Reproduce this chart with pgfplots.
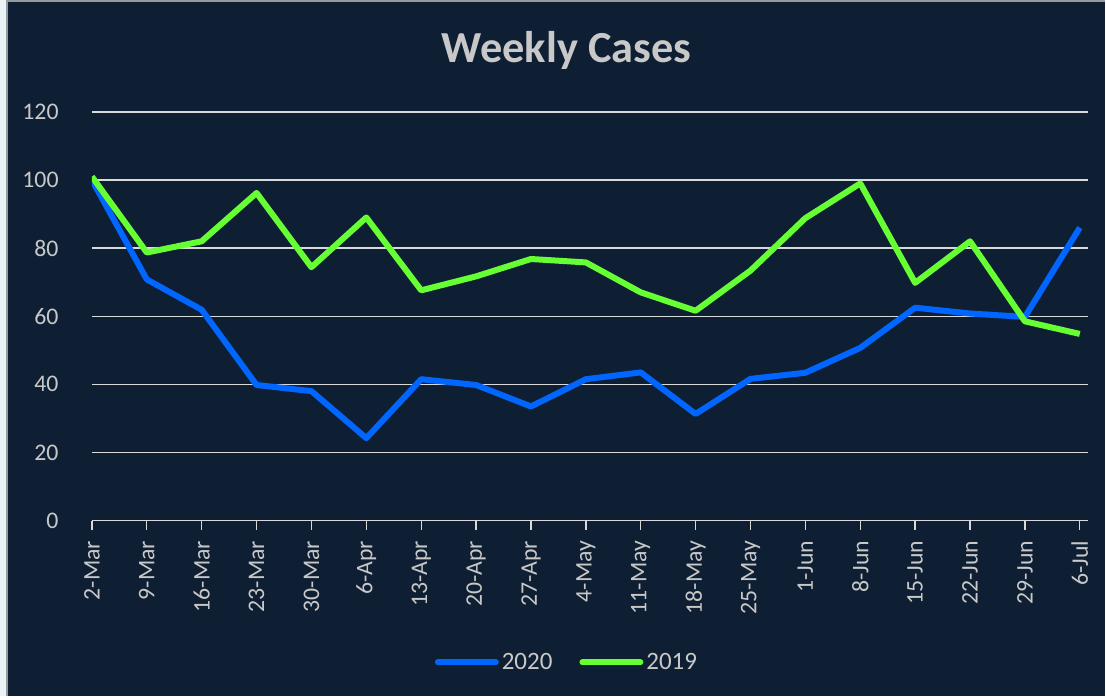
\documentclass[border=0pt]{standalone}
\usepackage{fontspec}
\setmainfont{Carlito}
\usepackage{pgfplots}
\pgfplotsset{compat=1.18}
\definecolor{bg}{RGB}{14,31,51}
\definecolor{edge}{RGB}{234,242,246}
\definecolor{frame}{RGB}{150,155,160}
\definecolor{cblue}{RGB}{0,102,255}
\definecolor{cgreen}{RGB}{102,255,51}
\definecolor{txt}{RGB}{200,200,200}
\definecolor{gridc}{RGB}{217,217,217}
\begin{document}
\begin{tikzpicture}
\fill[edge] (0pt,0pt) rectangle (553pt,348.5pt);
\fill[bg] (4pt,0pt) rectangle (553pt,347.5pt);
\draw[frame, line width=1pt] (3.5pt,0pt) -- (3.5pt,348pt) -- (553pt,348pt);
\node[anchor=base, text=txt, font=\fontsize{22.2}{26}\selectfont\bfseries] at (283.5pt,317pt) {Weekly Cases};
\begin{axis}[
  at={(46pt,88pt)}, anchor=south west,
  scale only axis, width=498.5pt, height=204.5pt,
  xmin=0, xmax=18.15, ymin=0, ymax=120,
  axis line style={draw=none},
  xtick={0,...,18},
  xticklabels={2-Mar,9-Mar,16-Mar,23-Mar,30-Mar,6-Apr,13-Apr,20-Apr,27-Apr,4-May,11-May,18-May,25-May,1-Jun,8-Jun,15-Jun,22-Jun,29-Jun,6-Jul},
  xtick pos=bottom, tick align=outside, major tick length=4.5pt,
  xtick style={draw=gridc, line width=0.7pt},
  ytick={0,20,...,120}, ytick style={draw=none},
  ymajorgrids, grid style={draw=gridc, line width=0.65pt},
  tick label style={text=txt, font=\fontsize{11.9}{14}\selectfont},
  /pgf/number format/assume math mode=true,
  xticklabel style={rotate=90, anchor=east, inner sep=0pt},
  xticklabel shift=5.5pt,
  yticklabel style={inner sep=0pt, xshift=-12pt},
  legend columns=2,
  legend style={at={(0.4774,-0.3472)}, anchor=center, draw=none, fill=none,
    text=txt, font=\fontsize{12.5}{15}\selectfont,
    /tikz/every even column/.append style={column sep=12pt},
    inner sep=0pt, nodes={inner sep=1.5pt}},
  legend image code/.code={\draw[#1, line width=3pt, line cap=round] (0pt,0pt) -- (29pt,0pt);},
  every axis plot/.append style={line width=3pt, line join=round, mark=none},
]
\draw[gridc, line width=0.75pt] (axis cs:0,0) -- (axis cs:18.15,0);
\addplot[cblue] coordinates {
(0,100) (1,70.8) (2,61.9) (3,39.8) (4,38) (5,24.2) (6,41.5) (7,39.8) (8,33.5)
(9,41.5) (10,43.5) (11,31.3) (12,41.6) (13,43.4) (14,50.7) (15,62.5) (16,60.8) (17,59.8) (18,86)};
\addlegendentry{2020}
\addplot[cgreen] coordinates {
(0,101) (1,78.7) (2,82) (3,96.2) (4,74.4) (5,89) (6,67.6) (7,71.7) (8,76.8)
(9,75.8) (10,67) (11,61.6) (12,73.4) (13,88.8) (14,99) (15,69.8) (16,82) (17,58.5) (18,54.8)};
\addlegendentry{2019}
\end{axis}
\end{tikzpicture}
\end{document}
